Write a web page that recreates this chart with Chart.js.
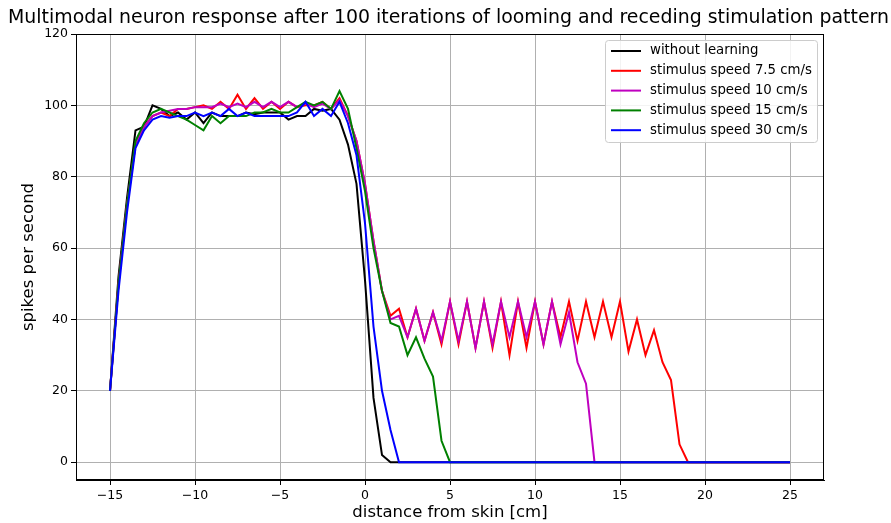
<!DOCTYPE html>
<html lang="en">
<head>
<meta charset="UTF-8">
<title>Multimodal neuron response</title>
<script src="https://cdn.jsdelivr.net/npm/chart.js"></script>
<style>
  html, body { margin: 0; padding: 0; background: #fff; }
</style>
</head>
<body>
<canvas id="neuronChart" width="891" height="523"></canvas>

<script>
// distance from skin [cm], one sample every 0.5 cm
const distance = [
  -15, -14.5, -14, -13.5, -13, -12.5, -12, -11.5, -11, -10.5,
  -10, -9.5, -9, -8.5, -8, -7.5, -7, -6.5, -6, -5.5,
  -5, -4.5, -4, -3.5, -3, -2.5, -2, -1.5, -1, -0.5,
  0, 0.5, 1, 1.5, 2, 2.5, 3, 3.5, 4, 4.5,
  5, 5.5, 6, 6.5, 7, 7.5, 8, 8.5, 9, 9.5,
  10, 10.5, 11, 11.5, 12, 12.5, 13, 13.5, 14, 14.5,
  15, 15.5, 16, 16.5, 17, 17.5, 18, 18.5, 19, 19.5,
  20, 20.5, 21, 21.5, 22, 22.5, 23, 23.5, 24, 24.5,
  25
];

// spikes per second for each series
const withoutLearning = [
  20, 52, 74, 93, 94, 100, 99, 97, 98, 96,
  98, 95, 98, 97, 97, 97, 98, 97.5, 98, 98,
  98, 96, 97, 97, 99, 98.5, 99, 96, 89, 78,
  51, 18, 2, 0, 0, 0, 0, 0, 0, 0,
  0, 0, 0, 0, 0, 0, 0, 0, 0, 0,
  0, 0, 0, 0, 0, 0, 0, 0, 0, 0,
  0, 0, 0, 0, 0, 0, 0, 0, 0, 0,
  0, 0, 0, 0, 0, 0, 0, 0, 0, 0,
  0
];
const speed7_5 = [
  20, 50, 72, 89, 94, 97, 98, 97, 99, 99,
  99.5, 100, 99, 101, 99, 103, 99, 102, 99, 101,
  99, 101, 99.5, 100, 100, 101, 99, 102, 97, 90,
  78, 62, 48, 41, 43, 35, 43, 34, 42, 33,
  45, 33, 45, 32, 45, 32, 45, 30, 45, 32,
  45, 33, 45, 35, 45, 34, 45, 35, 45, 35,
  45, 31, 40, 30, 37, 28, 23, 5, 0, 0,
  0, 0, 0, 0, 0, 0, 0, 0, 0, 0,
  0
];
const speed10 = [
  20, 50, 72, 89, 94, 97, 98, 98.5, 99, 99,
  99.5, 99.5, 99.5, 100.5, 99.5, 100.5, 99.5, 101, 99.5, 101,
  99.5, 101, 99.5, 100.5, 99.5, 100.5, 99, 101.5, 97, 90,
  78, 62, 48, 40, 41, 35, 43, 34, 42, 34,
  45, 34, 45, 32, 45, 33, 45, 35, 45, 35,
  45, 33, 45, 33, 42, 28, 22, 0, 0, 0,
  0, 0, 0, 0, 0, 0, 0, 0, 0, 0,
  0, 0, 0, 0, 0, 0, 0, 0, 0, 0,
  0
];
const speed15 = [
  20, 50, 72, 90, 95, 98, 99, 98, 97, 96,
  94.5, 93, 97, 95, 97, 97, 97, 98, 98, 99,
  98, 98, 99.5, 101, 100, 101, 99, 104, 99, 88,
  76, 60, 48, 39, 38, 30, 35, 29, 24, 6,
  0, 0, 0, 0, 0, 0, 0, 0, 0, 0,
  0, 0, 0, 0, 0, 0, 0, 0, 0, 0,
  0, 0, 0, 0, 0, 0, 0, 0, 0, 0,
  0, 0, 0, 0, 0, 0, 0, 0, 0, 0,
  0
];
const speed30 = [
  20, 48, 70, 88, 93, 96, 97, 96.5, 97, 97,
  98, 97, 98, 97, 99, 97, 98, 97, 97, 97,
  97, 97, 98, 101, 97, 99, 97, 101, 95, 86,
  67, 38, 20, 9, 0, 0, 0, 0, 0, 0,
  0, 0, 0, 0, 0, 0, 0, 0, 0, 0,
  0, 0, 0, 0, 0, 0, 0, 0, 0, 0,
  0, 0, 0, 0, 0, 0, 0, 0, 0, 0,
  0, 0, 0, 0, 0, 0, 0, 0, 0, 0,
  0
];

const seriesLabels = [
  'without learning',
  'stimulus speed 7.5 cm/s',
  'stimulus speed 10 cm/s',
  'stimulus speed 15 cm/s',
  'stimulus speed 30 cm/s'
];
const seriesColors = ['#000000', '#ff0000', '#bf00bf', '#008000', '#0000ff'];
const seriesValues = [withoutLearning, speed7_5, speed10, speed15, speed30];

const xTicks = [-15, -10, -5, 0, 5, 10, 15, 20, 25];
const yTicks = [0, 20, 40, 60, 80, 100, 120];

const chartTitle = 'Multimodal neuron response after 100 iterations of looming and receding stimulation pattern';

const FONT = "'DejaVu Sans', sans-serif";

const datasets = seriesValues.map((vals, i) => ({
  label: seriesLabels[i],
  data: vals.map((v, k) => ({ x: distance[k], y: v })),
  borderColor: seriesColors[i],
  backgroundColor: seriesColors[i],
  borderWidth: 2,
  pointRadius: 0,
  fill: false,
  tension: 0,
  order: seriesValues.length - i   // last series drawn on top, like matplotlib
}));

// black frame round the plot area + title centred over it
const frame = {
  id: 'frame',
  afterDatasetsDraw(chart) {
    const { ctx, chartArea: a } = chart;
    ctx.save();
    ctx.strokeStyle = '#000';
    ctx.lineWidth = 1;
    ctx.strokeRect(a.left + 0.5, a.top + 0.5, a.right - a.left - 1, a.bottom - a.top - 1);
    ctx.font = '18.9px ' + FONT;
    ctx.fillStyle = '#000';
    ctx.textAlign = 'center';
    ctx.textBaseline = 'middle';
    ctx.fillText(chartTitle, (a.left + a.right) / 2 - 1.5, 18);
    ctx.restore();
  }
};

// legend box inside the upper right corner
const boxLegend = {
  id: 'boxLegend',
  afterDraw(chart) {
    const { ctx, chartArea: a } = chart;
    const w = 212, h = 102;
    const x0 = a.right - 7 - w, y0 = a.top + 6;
    ctx.save();
    ctx.beginPath();
    ctx.roundRect(x0 + 0.5, y0 + 0.5, w, h, 3);
    ctx.fillStyle = 'rgba(255,255,255,0.85)';
    ctx.fill();
    ctx.strokeStyle = '#cccccc';
    ctx.lineWidth = 1;
    ctx.stroke();
    ctx.font = '13.3px ' + FONT;
    ctx.textBaseline = 'middle';
    chart.data.datasets.forEach((ds, i) => {
      const y = y0 + 11 + i * 19.8;
      ctx.beginPath();
      ctx.moveTo(x0 + 6, y);
      ctx.lineTo(x0 + 36, y);
      ctx.strokeStyle = ds.borderColor;
      ctx.lineWidth = 2;
      ctx.stroke();
      ctx.fillStyle = '#000';
      ctx.fillText(ds.label, x0 + 45, y);
    });
    ctx.restore();
  }
};

const minus = v => String(v).replace('-', '\u2212');

new Chart(document.getElementById('neuronChart'), {
  type: 'line',
  data: { datasets },
  plugins: [frame, boxLegend],
  options: {
    responsive: false,
    animation: false,
    devicePixelRatio: 1,
    layout: { padding: { left: 0, right: 67, top: 34, bottom: 0 } },
    plugins: {
      legend: { display: false },
      tooltip: { enabled: false },
      title: { display: false }
    },
    scales: {
      x: {
        type: 'linear',
        min: -17,
        max: 27,
        afterBuildTicks: s => { s.ticks = xTicks.map(v => ({ value: v })); },
        afterFit: s => { s.height = 43; },
        ticks: {
          color: '#000',
          font: { family: FONT, size: 12.5 },
          padding: 3,
          maxRotation: 0,
          callback: v => minus(v)
        },
        grid: { color: '#b0b0b0', lineWidth: 1, tickLength: 5, tickColor: '#000' },
        border: { color: '#000', width: 1 },
        title: {
          display: true,
          text: 'distance from skin [cm]',
          color: '#000',
          font: { family: FONT, size: 16.5 },
          padding: { top: 0, bottom: 0 }
        }
      },
      y: {
        min: -5,
        max: 120,
        afterBuildTicks: s => { s.ticks = yTicks.map(v => ({ value: v })); },
        afterFit: s => { s.width = 76; },
        ticks: {
          color: '#000',
          font: { family: FONT, size: 12.5 },
          padding: 3,
          callback: v => minus(v)
        },
        grid: { color: '#b0b0b0', lineWidth: 1, tickLength: 5, tickColor: '#000' },
        border: { color: '#000', width: 1 },
        title: {
          display: true,
          text: 'spikes per second',
          color: '#000',
          font: { family: FONT, size: 16.5 },
          padding: { top: 19, bottom: 0 }
        }
      }
    }
  }
});
</script>
</body>
</html>
